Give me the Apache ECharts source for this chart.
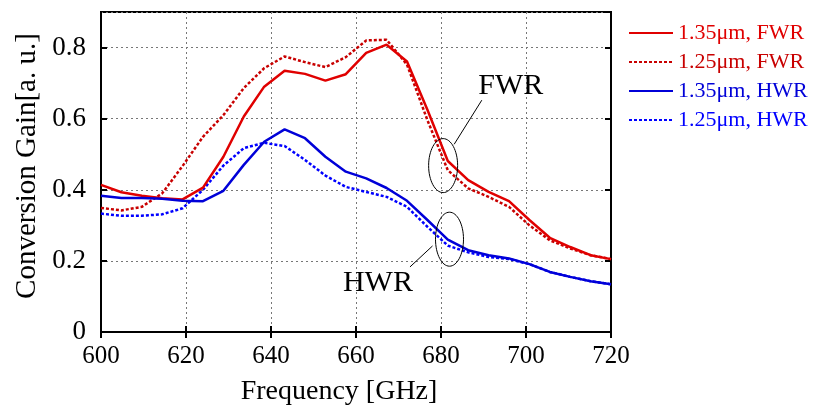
<!DOCTYPE html>
<html>
<head>
<meta charset="utf-8">
<script src="https://cdn.jsdelivr.net/npm/echarts@6/dist/echarts.min.js"></script>
<style>
  html, body { margin: 0; padding: 0; background: #fff; }
  #chart { width: 814px; height: 409px; }
</style>
</head>
<body>
<div id="chart"></div>
<script>
var freqs = [600, 604.8, 609.6, 614.4, 619.2, 624, 628.8, 633.6, 638.4, 643.2, 648, 652.8, 657.6,
             662.4, 667.2, 672, 676.8, 681.6, 686.4, 691.2, 696, 700.8, 705.6, 710.4, 715.2, 720];

var fwr135 = [0.414, 0.393, 0.383, 0.376, 0.373, 0.406, 0.493, 0.606, 0.690, 0.735, 0.726, 0.707, 0.725,
              0.785, 0.808, 0.761, 0.625, 0.481, 0.427, 0.394, 0.368, 0.315, 0.265, 0.239, 0.216, 0.205];
var fwr125 = [0.349, 0.342, 0.352, 0.390, 0.467, 0.549, 0.610, 0.686, 0.742, 0.775, 0.759, 0.745, 0.773,
              0.820, 0.822, 0.752, 0.596, 0.455, 0.404, 0.380, 0.352, 0.300, 0.258, 0.235, 0.216, 0.205];
var hwr135 = [0.383, 0.377, 0.377, 0.375, 0.369, 0.368, 0.397, 0.470, 0.535, 0.570, 0.545, 0.493, 0.451,
              0.432, 0.405, 0.369, 0.315, 0.260, 0.230, 0.216, 0.207, 0.191, 0.169, 0.155, 0.143, 0.134];
var hwr125 = [0.333, 0.327, 0.327, 0.331, 0.348, 0.400, 0.468, 0.517, 0.532, 0.523, 0.484, 0.440, 0.408,
              0.394, 0.380, 0.352, 0.296, 0.243, 0.224, 0.211, 0.205, 0.191, 0.169, 0.155, 0.143, 0.134];

var seriesNames = ['1.35μm, FWR', '1.25μm, FWR', '1.35μm, HWR', '1.25μm, HWR'];

var serif = "'Liberation Serif', 'Times New Roman', serif";
var RED = '#e00000', DRED = '#c80000', BLUE = '#0000d8', LBLUE = '#0000ff';

function pairs(ys) {
    return freqs.map(function (f, i) { return [f, ys[i]]; });
}

function mkLine(name, ys, color, dotted) {
    return {
        name: name,
        type: 'line',
        data: pairs(ys),
        symbol: 'none',
        lineStyle: { color: color, width: 2.5, type: dotted ? [3, 2] : 'solid' },
        itemStyle: { color: color },
        z: dotted ? 3 : 4
    };
}

var chart = echarts.init(document.getElementById('chart'), null, { renderer: 'canvas' });

var gridLine = { show: true, lineStyle: { color: '#777', type: [2, 3], width: 1 } };
var frameLine = { show: true, lineStyle: { color: '#000', width: 2 } };
var inTick = { show: true, inside: true, length: 6, lineStyle: { color: '#000', width: 2 } };

var option = {
    animation: false,
    textStyle: { fontFamily: serif },
    grid: { left: 101, top: 12, right: 203, bottom: 77, containLabel: false,
            show: true, borderColor: '#000', borderWidth: 2, backgroundColor: 'transparent' },
    legend: {
        orient: 'vertical',
        left: 623,
        top: 17,
        itemWidth: 44,
        itemHeight: 14,
        itemGap: 7,
        itemStyle: { color: 'rgba(0,0,0,0)', borderColor: 'rgba(0,0,0,0)', borderWidth: 0 },
        textStyle: { fontFamily: serif, fontSize: 22, lineHeight: 22 },
        data: [
            { name: seriesNames[0], textStyle: { color: RED } },
            { name: seriesNames[1], textStyle: { color: DRED } },
            { name: seriesNames[2], textStyle: { color: BLUE } },
            { name: seriesNames[3], textStyle: { color: LBLUE } }
        ]
    },
    xAxis: [{
        type: 'value', min: 600, max: 720, interval: 20,
        axisLine: frameLine, axisTick: inTick,
        axisLabel: { color: '#000', fontSize: 25, margin: 12, fontFamily: serif },
        splitLine: gridLine
    }, {
        type: 'value', position: 'top', min: 600, max: 720, interval: 20,
        axisLine: frameLine, axisTick: inTick,
        axisLabel: { show: false }, splitLine: { show: false }
    }],
    yAxis: [{
        type: 'value', min: 0, max: 0.9, interval: 0.2,
        axisLine: frameLine, axisTick: inTick,
        axisLabel: { color: '#000', fontSize: 27, margin: 15, fontFamily: serif, showMaxLabel: false,
            formatter: function (v) { return v > 0.85 ? '' : String(+v.toFixed(1)); } },
        splitLine: gridLine
    }, {
        type: 'value', position: 'right', min: 0, max: 0.9, interval: 0.2,
        axisLine: frameLine, axisTick: inTick,
        axisLabel: { show: false }, splitLine: { show: false }
    }],
    series: [
        mkLine(seriesNames[0], fwr135, RED, false),
        mkLine(seriesNames[1], fwr125, DRED, true),
        mkLine(seriesNames[2], hwr135, BLUE, false),
        mkLine(seriesNames[3], hwr125, LBLUE, true)
    ]
};

chart.setOption(option);

// annotation positions in data space
function px(x, y) { return chart.convertToPixel({ gridIndex: 0 }, [x, y]); }
var fE = px(680.5, 0.468), hE = px(682.0, 0.261);
var fL1 = px(683.1, 0.528), fL2 = px(689.6, 0.652);
var hL1 = px(678.0, 0.242), hL2 = px(672.7, 0.183);
var fT = px(696.4, 0.692), hT = px(673.4, 0.137);

chart.setOption({
    graphic: [
        { type: 'ellipse', shape: { cx: fE[0], cy: fE[1], rx: 14.5, ry: 27 },
          style: { fill: 'none', stroke: '#000', lineWidth: 1 }, z: 10 },
        { type: 'ellipse', shape: { cx: hE[0], cy: hE[1], rx: 14, ry: 27 },
          style: { fill: 'none', stroke: '#000', lineWidth: 1 }, z: 10 },
        { type: 'line', shape: { x1: fL1[0], y1: fL1[1], x2: fL2[0], y2: fL2[1] },
          style: { stroke: '#000', lineWidth: 1 }, z: 10 },
        { type: 'line', shape: { x1: hL1[0], y1: hL1[1], x2: hL2[0], y2: hL2[1] },
          style: { stroke: '#000', lineWidth: 1 }, z: 10 },
        { type: 'text', x: fT[0], y: fT[1], z: 10,
          style: { text: 'FWR', font: '30px ' + serif, fill: '#000', textAlign: 'center', textVerticalAlign: 'middle' } },
        { type: 'text', x: hT[0], y: hT[1], z: 10,
          style: { text: 'HWR', font: '30px ' + serif, fill: '#000', textAlign: 'right', textVerticalAlign: 'middle' } },
        { type: 'text', x: 339, y: 392, z: 10,
          style: { text: 'Frequency [GHz]', font: '28px ' + serif, fill: '#000', textAlign: 'center', textVerticalAlign: 'middle' } },
        { type: 'text', x: 27.5, y: 166, rotation: Math.PI / 2, z: 10,
          style: { text: 'Conversion Gain[a. u.]', font: '29px ' + serif, fill: '#000', textAlign: 'center', textVerticalAlign: 'middle' } }
    ]
});
</script>
</body>
</html>
